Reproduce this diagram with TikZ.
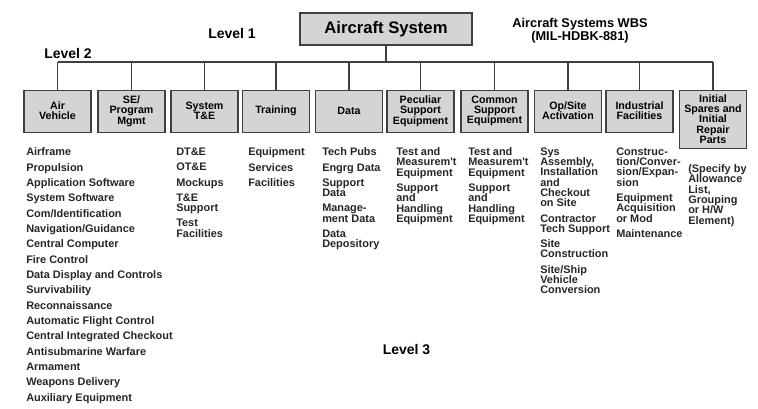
\documentclass[tikz,border=0pt]{standalone}
\usepackage{fontspec}
\setmainfont{Liberation Sans}
\usepackage{xcolor}
\usetikzlibrary{positioning}
\definecolor{boxgray}{gray}{0.83}
\definecolor{linegray}{gray}{0.25}
\definecolor{textgray}{gray}{0.15}

\begin{document}
\begin{tikzpicture}[
        x=0.75pt, y=-0.75pt,
        font=\bfseries,
        wbsbox/.style={
            draw=linegray,
            fill=boxgray,
            line width=0.8pt,
            minimum width=50.25pt,
            minimum height=31.5pt,
            anchor=north,
            align=center,
            inner sep=1pt,
            font=\fontsize{8}{7.7}\selectfont\bfseries
        },
        wbslist/.style={
            anchor=north west,
            align=left,
            inner sep=0pt,
            text=textgray,
            font=\fontsize{8.2}{7.7}\selectfont\bfseries
        },
        levellabel/.style={
            font=\fontsize{10.5}{12}\selectfont\bfseries
        },
        connector/.style={
            draw=linegray,
            line width=0.8pt
        }
    ]
        \useasboundingbox (0,0) rectangle (758,408);

        % Level 1
        \node[draw=linegray, fill=boxgray, line width=0.8pt,
            minimum width=129pt, minimum height=24pt,
            font=\fontsize{12.5}{14}\selectfont\bfseries] (system) at (386,29)
            {Aircraft System};
        \node[levellabel] (lvl1) at (232,33) {Level 1};
        \node[align=center, font=\fontsize{9.6}{8.4}\selectfont\bfseries] (wbs) at (580,31)
            {Aircraft Systems WBS\\(MIL-HDBK-881)};

        % Level 2
        \node[levellabel] (lvl2) at (68,53) {Level 2};
        \coordinate (bus) at (0,62);

        \node[wbsbox] (air)      at ( 57.5,89.5) {Air\\Vehicle};
        \node[wbsbox] (sepm)     at (131.5,89.5) {SE/\\Program\\Mgmt};
        \node[wbsbox] (syste)    at (204.5,89.5) {System\\T\&E};
        \node[wbsbox] (training) at (276,89.5)   {Training};
        \node[wbsbox] (data)     at (349,89.5)   {Data};
        \node[wbsbox] (peculiar) at (420.5,89.5) {Peculiar\\Support\\Equipment};
        \node[wbsbox] (common)   at (494.5,89.5) {Common\\Support\\Equipment};
        \node[wbsbox] (opsite)   at (568,89.5)   {Op/Site\\Activation};
        \node[wbsbox] (indfac)   at (639.5,89.5) {Industrial\\Facilities};
        \node[wbsbox, minimum height=43.5pt] (spares) at (713,89.5)
            {Initial\\Spares and\\Initial\\Repair\\Parts};

        % connections
        \draw[connector] (system.south) -- (system.south |- bus);
        \draw[connector] (air.north |- bus) -- (spares.north |- bus);
        \foreach \elem in {air,sepm,syste,training,data,peculiar,common,opsite,indfac,spares}
            \draw[connector] (\elem.north) -- (\elem.north |- bus);

        % Level 3
        \node[wbslist] (airlist) at (26,147.5)
            {Airframe\\[3.8pt] Propulsion\\[3.8pt] Application Software\\[3.8pt]
             System Software\\[3.8pt] Com/Identification\\[3.8pt]
             Navigation/Guidance\\[3.8pt] Central Computer\\[3.8pt]
             Fire Control\\[3.8pt] Data Display and Controls\\[3.8pt]
             Survivability\\[3.8pt] Reconnaissance\\[3.8pt]
             Automatic Flight Control\\[3.8pt] Central Integrated Checkout\\[3.8pt]
             Antisubmarine Warfare\\[3.8pt] Armament\\[3.8pt]
             Weapons Delivery\\[3.8pt] Auxiliary Equipment};
        \node[wbslist] (sysTElist) at (176,147.5)
            {DT\&E\\[3.8pt] OT\&E\\[3.8pt] Mockups\\[3.8pt]
             T\&E\\ Support\\[3.8pt] Test\\ Facilities};
        \node[wbslist] (traininglist) at (248,147.5)
            {Equipment\\[3.8pt] Services\\[3.8pt] Facilities};
        \node[wbslist] (datalist) at (322,147.5)
            {Tech Pubs\\[3.8pt] Engrg Data\\[3.8pt] Support\\ Data\\[3.8pt]
             Manage-\\ ment Data\\[3.8pt] Data\\ Depository};
        \node[wbslist] (peculiarlist) at (396,147.5)
            {Test and\\ Measurem\textquotesingle t\\ Equipment\\[3.8pt]
             Support\\ and\\ Handling\\ Equipment};
        \node[wbslist] (commonlist) at (468,147.5)
            {Test and\\ Measurem\textquotesingle t\\ Equipment\\[3.8pt]
             Support\\ and\\ Handling\\ Equipment};
        \node[wbslist] (opsitelist) at (540,147.5)
            {Sys\\ Assembly,\\ Installation\\ and\\ Checkout\\ on Site\\[3.8pt]
             Contractor\\ Tech Support\\[3.8pt] Site\\ Construction\\[3.8pt]
             Site/Ship\\ Vehicle\\ Conversion};
        \node[wbslist] (indfaclist) at (616,147.5)
            {Construc-\\ tion/Conver-\\ sion/Expan-\\ sion\\[3.8pt]
             Equipment\\ Acquisition\\ or Mod\\[3.8pt] Maintenance};
        \node[wbslist] (spareslist) at (688,164.5)
            {(Specify by\\ Allowance\\ List,\\ Grouping\\ or H/W\\ Element)};

        \node[levellabel] (lvl3) at (406.5,349) {Level 3};
\end{tikzpicture}
\end{document}
